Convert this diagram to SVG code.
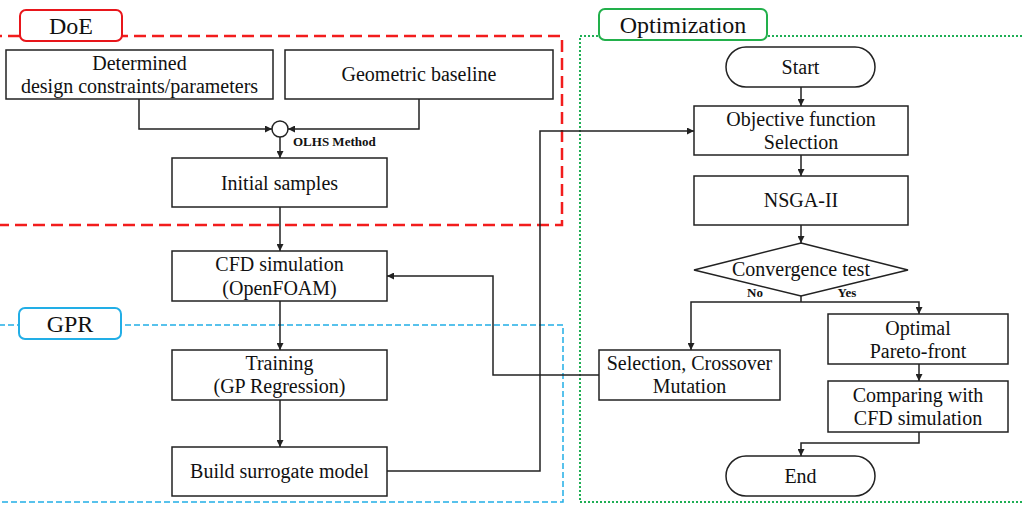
<svg xmlns="http://www.w3.org/2000/svg" width="1023" height="518" viewBox="0 0 1023 518">
<style>
  .box { fill: #fff; stroke: #222; stroke-width: 1.5; }
  .t { font-family: "Liberation Serif", "Times New Roman", serif; font-size: 20px; fill: #111; text-anchor: middle; }
  .lbl { font-family: "Liberation Serif", "Times New Roman", serif; font-size: 24px; fill: #111; text-anchor: middle; }
  .sm { font-family: "Liberation Serif", "Times New Roman", serif; font-size: 13px; font-weight: bold; fill: #111; }
  .ln { fill: none; stroke: #222; stroke-width: 1.5; }
</style>
<defs>
  <marker id="arr" viewBox="0 0 10 10" refX="10" refY="5" markerWidth="7" markerHeight="7" markerUnits="userSpaceOnUse" orient="auto">
    <path d="M0,0 L10,5 L0,10 z" fill="#222"/>
  </marker>
</defs>
<rect width="1023" height="518" fill="#fff"/>

<!-- region frames -->
<g id="regions">
  <rect x="-10" y="36" width="572" height="189" fill="none" stroke="#f21d1d" stroke-width="2.5" stroke-dasharray="12,6"/>
  <rect x="-10" y="325" width="573" height="177" fill="none" stroke="#22aee6" stroke-width="1.5" stroke-dasharray="6,3"/>
  <rect x="580" y="36" width="460" height="466" fill="none" stroke="#1fae55" stroke-width="2" stroke-dasharray="2,2"/>
</g>

<g id="label-doe">
  <rect x="20" y="10" width="102" height="31" rx="6" fill="#fff" stroke="#e8161b" stroke-width="2"/>
  <text class="lbl" x="71" y="34">DoE</text>
</g>
<g id="label-opt">
  <rect x="599" y="9" width="168" height="31" rx="6" fill="#fff" stroke="#22b04b" stroke-width="2"/>
  <text class="lbl" x="683" y="33">Optimization</text>
</g>
<g id="label-gpr">
  <rect x="19" y="308" width="102" height="31" rx="6" fill="#fff" stroke="#22aee6" stroke-width="2"/>
  <text class="lbl" x="70" y="332">GPR</text>
</g>

<!-- connectors -->
<g id="connectors">
  <path class="ln" d="M139,99 V129 H272" marker-end="url(#arr)"/>
  <path class="ln" d="M419,99 V129 H288" marker-end="url(#arr)"/>
  <path class="ln" d="M280,137 V158" marker-end="url(#arr)"/>
  <path class="ln" d="M280,207 V251" marker-end="url(#arr)"/>
  <path class="ln" d="M280,301 V350" marker-end="url(#arr)"/>
  <path class="ln" d="M280,400 V447" marker-end="url(#arr)"/>
  <path class="ln" d="M387,471 H540 V131 H694" marker-end="url(#arr)"/>
  <path class="ln" d="M801,87 V106" marker-end="url(#arr)"/>
  <path class="ln" d="M801,155 V176" marker-end="url(#arr)"/>
  <path class="ln" d="M801,225 V243" marker-end="url(#arr)"/>
  <path class="ln" d="M801,296 V302"/>
  <path class="ln" d="M801,302 H691 V350" marker-end="url(#arr)"/>
  <path class="ln" d="M801,302 H919 V314" marker-end="url(#arr)"/>
  <path class="ln" d="M599,375 H493 V276 H387" marker-end="url(#arr)"/>
  <path class="ln" d="M919,364 V381" marker-end="url(#arr)"/>
  <path class="ln" d="M919,432 V443 H801 V456" marker-end="url(#arr)"/>
  <text class="sm" x="293" y="146">OLHS Method</text>
  <text class="sm" x="755" y="297" text-anchor="middle">No</text>
  <text class="sm" x="847" y="297" text-anchor="middle">Yes</text>
</g>

<g id="n-determined">
  <rect class="box" x="6" y="50" width="267" height="49"/>
  <text class="t" x="139.5" y="70">Determined</text>
  <text class="t" x="139.5" y="93">design constraints/parameters</text>
</g>
<g id="n-geometric">
  <rect class="box" x="285" y="50" width="268" height="49"/>
  <text class="t" x="419" y="81">Geometric baseline</text>
</g>
<g id="n-olhs">
  <circle cx="280" cy="129" r="8" fill="#fff" stroke="#222" stroke-width="1.5"/>
</g>
<g id="n-initial">
  <rect class="box" x="172" y="158" width="215" height="49"/>
  <text class="t" x="279.5" y="190">Initial samples</text>
</g>
<g id="n-cfd">
  <rect class="box" x="172" y="251" width="215" height="50"/>
  <text class="t" x="279.5" y="271">CFD simulation</text>
  <text class="t" x="279.5" y="295">(OpenFOAM)</text>
</g>
<g id="n-training">
  <rect class="box" x="172" y="350" width="215" height="50"/>
  <text class="t" x="279.5" y="370">Training</text>
  <text class="t" x="279.5" y="393">(GP Regression)</text>
</g>
<g id="n-build">
  <rect class="box" x="172" y="447" width="215" height="49"/>
  <text class="t" x="279.5" y="478">Build surrogate model</text>
</g>
<g id="n-start">
  <rect class="box" x="726" y="47" width="149" height="40" rx="20"/>
  <text class="t" x="800.5" y="74">Start</text>
</g>
<g id="n-objective">
  <rect class="box" x="694" y="106" width="214" height="49"/>
  <text class="t" x="801" y="126">Objective function</text>
  <text class="t" x="801" y="149">Selection</text>
</g>
<g id="n-nsga">
  <rect class="box" x="694" y="176" width="214" height="49"/>
  <text class="t" x="801" y="207">NSGA-II</text>
</g>
<g id="n-convergence">
  <polygon class="box" points="801,243 908,270 801,296 694,270"/>
  <text class="t" x="801" y="276">Convergence test</text>
</g>
<g id="n-selection">
  <rect class="box" x="599" y="350" width="181" height="50"/>
  <text class="t" x="689.5" y="370">Selection, Crossover</text>
  <text class="t" x="689.5" y="393">Mutation</text>
</g>
<g id="n-optimal">
  <rect class="box" x="828" y="314" width="180" height="50"/>
  <text class="t" x="918" y="335">Optimal</text>
  <text class="t" x="918" y="358">Pareto-front</text>
</g>
<g id="n-comparing">
  <rect class="box" x="828" y="381" width="180" height="51"/>
  <text class="t" x="918" y="402">Comparing with</text>
  <text class="t" x="918" y="425">CFD simulation</text>
</g>
<g id="n-end">
  <rect class="box" x="726" y="456" width="149" height="40" rx="20"/>
  <text class="t" x="800.5" y="483">End</text>
</g>
</svg>
